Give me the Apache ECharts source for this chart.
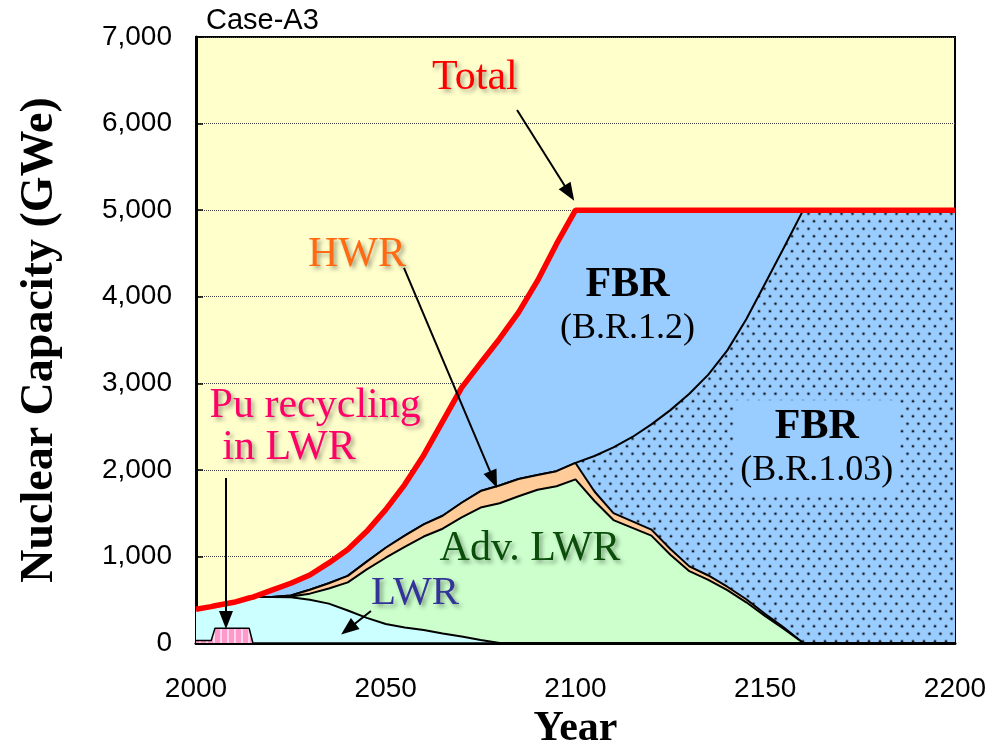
<!DOCTYPE html>
<html>
<head>
<meta charset="utf-8">
<script src="https://cdn.jsdelivr.net/npm/echarts@6/dist/echarts.min.js"></script>
<style>
  html, body { margin: 0; padding: 0; background: #ffffff; }
  #chart { width: 998px; height: 746px; }
</style>
</head>
<body>
<div id="chart"></div>
<script>
// Nuclear capacity scenario (Case-A3), GWe by reactor type, stacked.
const years = [2000, 2004, 2005, 2010, 2014, 2015,
  2020, 2025, 2030, 2035, 2040, 2045, 2050, 2055, 2060, 2065, 2070, 2075, 2080,
  2085, 2090, 2095, 2100, 2105, 2110, 2115, 2120, 2125, 2130, 2135, 2140, 2145,
  2150, 2155, 2160, 2165, 2170, 2175, 2180, 2185, 2190, 2195, 2200];

const puRecycling = [30, 30, 170, 170, 170, 0,
  0, 0, 0, 0, 0, 0, 0, 0, 0, 0, 0, 0, 0,
  0, 0, 0, 0, 0, 0, 0, 0, 0, 0, 0, 0, 0,
  0, 0, 0, 0, 0, 0, 0, 0, 0, 0, 0];

const lwr = [360, 390, 260, 300, 350, 530,
  530, 528, 500, 455, 375, 290, 220, 180, 150, 110, 75, 35, 0,
  0, 0, 0, 0, 0, 0, 0, 0, 0, 0, 0, 0, 0,
  0, 0, 0, 0, 0, 0, 0, 0, 0, 0, 0];

const advLwr = [0, 0, 0, 0, 0, 0,
  0, 10, 70, 175, 325, 560, 765, 930, 1080, 1210, 1375, 1530, 1615,
  1695, 1770, 1810, 1890, 1640, 1420, 1330, 1240, 1020, 830, 730, 610, 470,
  310, 160, 0, 0, 0, 0, 0, 0, 0, 0, 0];

const hwr = [0, 0, 0, 0, 0, 0,
  0, 10, 45, 60, 75, 90, 115, 130, 140, 150, 170, 190, 205,
  200, 170, 175, 190, 110, 80, 75, 70, 65, 55, 50, 40, 35,
  25, 15, 0, 0, 0, 0, 0, 0, 0, 0, 0];

const fbr103 = [0, 0, 0, 0, 0, 0,
  0, 0, 0, 0, 0, 0, 0, 0, 0, 0, 0, 0, 0,
  0, 0, 0, 0, 410, 760, 975, 1215, 1605, 1995, 2320, 2730, 3235,
  3820, 4400, 5000, 5000, 5000, 5000, 5000, 5000, 5000, 5000, 5000];

const fbr12 = [0, 0, 0, 0, 0, 0,
  80, 142, 170, 235, 305, 350, 440, 590, 800, 1090, 1330, 1480, 1695,
  1925, 2245, 2625, 2920, 2840, 2740, 2620, 2475, 2310, 2120, 1900, 1620, 1260,
  845, 425, 0, 0, 0, 0, 0, 0, 0, 0, 0];

const total = [390, 420, 430, 470, 520, 530,
  610, 690, 785, 925, 1080, 1290, 1540, 1830, 2170, 2560, 2950, 3235, 3515,
  3820, 4185, 4610, 5000, 5000, 5000, 5000, 5000, 5000, 5000, 5000, 5000, 5000,
  5000, 5000, 5000, 5000, 5000, 5000, 5000, 5000, 5000, 5000, 5000];

const yTicks = [0, 1000, 2000, 3000, 4000, 5000, 6000, 7000];
const xTicks = [2000, 2050, 2100, 2150, 2200];

const SERIF = '"Liberation Serif", "Times New Roman", serif';
const SANS = '"Liberation Sans", Arial, sans-serif';

// Dotted fill for the B.R.1.03 breeder area (staggered dot grid)
function dotPattern() {
  const c = document.createElement('canvas');
  c.width = 22; c.height = 15;
  const g = c.getContext('2d');
  g.fillStyle = '#99ccff';
  g.fillRect(0, 0, 22, 15);
  [[5.5, 3.75], [16.5, 3.75], [0, 11.25], [11, 11.25], [22, 11.25]].forEach(function (p) {
    g.fillStyle = 'rgba(40,50,70,0.3)';
    g.beginPath(); g.arc(p[0], p[1], 1.9, 0, Math.PI * 2); g.fill();
    g.fillStyle = '#1a1a1a';
    g.beginPath(); g.arc(p[0], p[1], 1.1, 0, Math.PI * 2); g.fill();
  });
  return c;
}

// Striped pink fill for Pu recycling in LWR
function stripePattern() {
  const c = document.createElement('canvas');
  c.width = 7; c.height = 4;
  const g = c.getContext('2d');
  g.fillStyle = '#ff99cc';
  g.fillRect(0, 0, 7, 4);
  g.fillStyle = '#ffd6ea';
  g.fillRect(3, 0, 2, 4);
  return c;
}

// Rows are [capacity, year]; capacity comes first so that it is the stacked dimension.
function rows(values) {
  return years.map(function (y, i) { return [values[i], y]; });
}

function stackedArea(name, values, fill, z, lineWidth) {
  return {
    name: name,
    type: 'line',
    stack: 'capacity',
    data: rows(values),
    encode: { x: 1, y: 0 },
    symbol: 'none',
    z: z,
    silent: true,
    lineStyle: { color: '#000000', width: lineWidth },
    itemStyle: { color: '#000000' },
    areaStyle: { color: fill, opacity: 1 }
  };
}

const shadow = {
  textShadowColor: 'rgba(0,0,0,0.35)',
  textShadowBlur: 4,
  textShadowOffsetX: 3,
  textShadowOffsetY: 3
};

function note(coord, text, label) {
  return {
    coord: coord,
    value: text,
    symbol: 'rect',
    symbolSize: 1,
    itemStyle: { color: 'rgba(0,0,0,0)' },
    label: Object.assign({ show: true, position: 'inside', formatter: text, fontFamily: SERIF }, label)
  };
}

function arrow(from, to) {
  return [
    { coord: from, symbol: 'none' },
    { coord: to, symbol: 'triangle', symbolSize: [14, 18] }
  ];
}

const fbrRich = {
  a: { fontFamily: SERIF, fontWeight: 'bold', fontSize: 42, lineHeight: 46, align: 'center', color: '#000' },
  b: { fontFamily: SERIF, fontSize: 36, lineHeight: 40, align: 'center', color: '#000' }
};

const chart = echarts.init(document.getElementById('chart'), null, { renderer: 'canvas' });

chart.setOption({
  animation: false,
  backgroundColor: '#ffffff',
  title: {
    text: 'Case-A3',
    left: 201,
    top: 1,
    textStyle: { fontFamily: SANS, fontSize: 29, fontWeight: 'normal', color: '#000' }
  },
  grid: {
    left: 196, right: 43, top: 37, bottom: 103,
    outerBoundsMode: 'none',
    containLabel: false,
    show: true,
    backgroundColor: '#ffffcc',
    borderColor: '#000000',
    borderWidth: 2
  },
  xAxis: {
    type: 'value',
    min: xTicks[0], max: xTicks[xTicks.length - 1], interval: 50,
    name: 'Year',
    nameLocation: 'middle',
    nameGap: 63,
    nameTextStyle: { fontFamily: SERIF, fontWeight: 'bold', fontSize: 42, color: '#000' },
    axisLine: { lineStyle: { color: '#000', width: 3 } },
    axisTick: { inside: true, length: 8, lineStyle: { color: '#000', width: 2 } },
    axisLabel: {
      fontFamily: SANS, fontSize: 28, color: '#000', margin: 32,
      formatter: function (v) { return String(v); }
    },
    splitLine: { show: false }
  },
  yAxis: {
    type: 'value',
    min: yTicks[0], max: yTicks[yTicks.length - 1], interval: 1000,
    name: 'Nuclear Capacity (GWe)',
    nameLocation: 'middle',
    nameRotate: 90,
    nameGap: 133,
    nameTextStyle: { fontFamily: SERIF, fontWeight: 'bold', fontSize: 46, color: '#000' },
    axisLine: { show: true, lineStyle: { color: '#000', width: 3 } },
    axisTick: { show: true, inside: true, length: 7, lineStyle: { color: '#000', width: 1.5 } },
    axisLabel: {
      fontFamily: SANS, fontSize: 28, color: '#000', margin: 24,
      formatter: function (v) { return v.toLocaleString('en-US'); }
    },
    splitLine: { show: true, lineStyle: { color: '#444', type: 'dotted', width: 1 } }
  },
  series: [
    stackedArea('Pu recycling in LWR', puRecycling, { image: stripePattern(), repeat: 'repeat' }, 8, 1.5),
    stackedArea('LWR', lwr, '#ccffff', 7, 2),
    stackedArea('Adv. LWR', advLwr, '#ccffcc', 6, 2),
    stackedArea('HWR', hwr, '#ffcc99', 5, 2),
    stackedArea('FBR (B.R.1.03)', fbr103, { image: dotPattern(), repeat: 'repeat' }, 4, 2),
    stackedArea('FBR (B.R.1.2)', fbr12, '#99ccff', 3, 0),
    {
      name: 'Total',
      type: 'line',
      data: rows(total),
      encode: { x: 1, y: 0 },
      symbol: 'none',
      z: 10,
      silent: true,
      lineStyle: { color: '#ff0000', width: 5.5 },
      markPoint: {
        silent: true,
        z: 20,
        data: [
          note([2073.5, 6527], 'Total', Object.assign({ fontSize: 42, color: '#ff0000' }, shadow)),
          note([2042.4, 4482], 'HWR', Object.assign({ fontSize: 42, color: '#ff6a13' }, shadow)),
          note([2031.4, 2738], 'Pu recycling', Object.assign({ fontSize: 42, color: '#ff0066' }, shadow)),
          note([2024.5, 2252], 'in LWR', Object.assign({ fontSize: 42, color: '#ff0066' }, shadow)),
          note([2057.7, 578], 'LWR', Object.assign({ fontSize: 41, color: '#333399' }, shadow)),
          note([2088.0, 1086], 'Adv. LWR', Object.assign({ fontSize: 42, color: '#0b4d0b' }, shadow)),
          note([2113.7, 3900], '{a|FBR}\n{b|(B.R.1.2)}', { color: '#000', rich: fbrRich }),
          note([2163.6, 2250], '{a|FBR}\n{b|(B.R.1.03)}', {
            color: '#000',
            backgroundColor: '#99ccff',
            padding: [4, 6, 6, 6],
            rich: fbrRich
          })
        ]
      },
      markLine: {
        silent: true,
        z: 20,
        animation: false,
        label: { show: false },
        lineStyle: { color: '#000', width: 2, type: 'solid' },
        emphasis: { disabled: true },
        data: [
          arrow([2084.6, 6157], [2098.4, 5196]),
          arrow([2054.8, 4332], [2078.4, 1887]),
          arrow([2007.9, 1906], [2007.9, 266]),
          arrow([2046.1, 370], [2040.1, 162])
        ]
      }
    }
  ]
});
</script>
</body>
</html>
